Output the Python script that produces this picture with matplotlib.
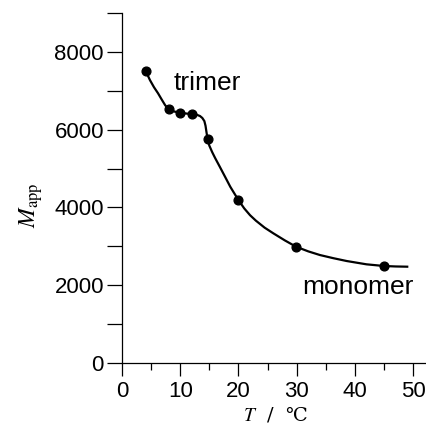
import matplotlib
matplotlib.use("Agg")
import matplotlib.pyplot as plt
from matplotlib.ticker import MultipleLocator

# datos medidos (puntos)
temp = [4.1, 8.0, 10.0, 12.1, 14.7, 20.0, 29.9, 45.0]
masa = [7500, 6520, 6435, 6400, 5760, 4190, 2990, 2490]

# curva ajustada
curva_T = [4.1, 4.8, 5.5, 6.2, 6.8, 7.4, 8.0, 9.0, 10.0, 11.0, 12.1, 12.8, 13.4,
           13.8, 14.15, 14.35, 14.5, 14.7, 15.0, 15.5, 16.0, 16.8, 17.7, 18.6, 19.3,
           20.0, 21.0, 22.0, 23.0, 24.5, 26.0, 28.0, 29.9, 32.0, 34.0, 36.3, 38.6,
           42.0, 45.0, 47.0, 49.0]
curva_M = [7500, 7275, 7090, 6933, 6780, 6632, 6520, 6465, 6435, 6415, 6400, 6385, 6350,
           6300, 6220, 6100, 5950, 5760, 5590, 5420, 5270, 5046, 4790, 4532, 4360,
           4190, 3975, 3800, 3660, 3480, 3334, 3150, 2990, 2870, 2776, 2695, 2622,
           2537, 2494, 2482, 2476]

etiquetas = {"trimer": (8.8, 7200), "monomer": (30.9, 1960)}

plt.rcParams["mathtext.fontset"] = "stix"
plt.rcParams["font.family"] = ["Liberation Sans", "DejaVu Sans"]

fig = plt.figure(figsize=(4.27, 4.24), dpi=100)
ax = fig.add_axes([0.2857, 0.1439, 0.7157, 0.8255])

ax.plot(curva_T, curva_M, color="black", linewidth=1.6, zorder=2)
ax.plot(temp, masa, "o", color="black", markersize=6.3, zorder=3)

for texto, (x, y) in etiquetas.items():
    ax.text(x, y, texto, fontsize=19, ha="left", va="center")

ax.set_xlim(0, 52.5)
ax.set_ylim(0, 9000)
ax.xaxis.set_major_locator(MultipleLocator(10))
ax.xaxis.set_minor_locator(MultipleLocator(5))
ax.yaxis.set_major_locator(MultipleLocator(2000))
ax.yaxis.set_minor_locator(MultipleLocator(1000))

for lado in ["top", "right"]:
    ax.spines[lado].set_visible(False)
ax.spines["left"].set_linewidth(0.9)
ax.spines["bottom"].set_linewidth(0.9)

ax.tick_params(axis="x", which="major", direction="out", length=9, width=0.9, pad=4, labelsize=16)
ax.tick_params(axis="x", which="minor", direction="out", length=5, width=0.9)
ax.tick_params(axis="y", which="major", direction="out", length=11, width=0.9, pad=2, labelsize=16)
ax.tick_params(axis="y", which="minor", direction="out", length=11, width=0.9)

# etiquetas de los ejes
fig.text(0.072, 0.5165, r"$M_{\mathrm{app}}$", fontsize=17, rotation=90, ha="center", va="center")
fig.text(0.644, 0.022, r"$T$  /  ℃", fontsize=14, ha="center", va="center",
         family=["DejaVu Serif"])

fig.savefig("out.png", dpi=100)
